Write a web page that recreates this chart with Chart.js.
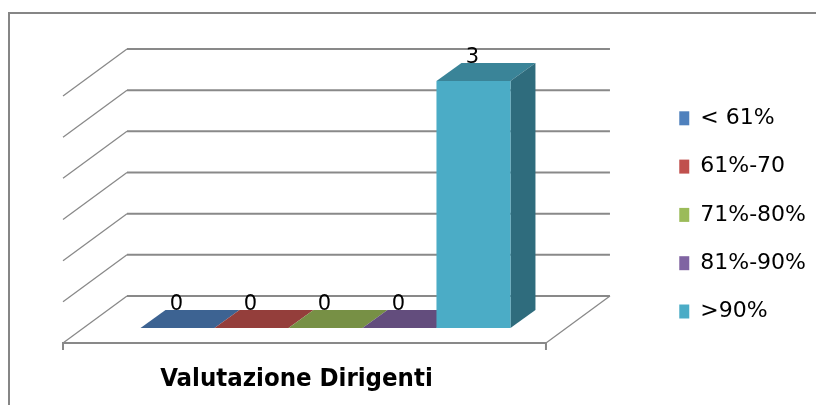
<!DOCTYPE html>
<html>
<head>
<meta charset="utf-8">
<script src="https://cdn.jsdelivr.net/npm/chart.js@4.4.0/dist/chart.umd.min.js"></script>
<style>
  html, body { margin: 0; padding: 0; background: #fff; }
  canvas { display: block; }
</style>
</head>
<body>
<canvas id="myChart" width="816" height="405"></canvas>
<script>
const categories = ['Valutazione Dirigenti'];
const seriesNames = ['< 61%', '61%-70', '71%-80%', '81%-90%', '>90%'];
const seriesValues = [0, 0, 0, 0, 3];
const seriesColors = ['#4F81BD', '#C0504D', '#9BBB59', '#8064A2', '#4BACC6'];

// fake 3d: offsets measured from the plane of the bar fronts
const BACK = { x: 43, y: -32 };
const FRONT = { x: -21, y: 15 };
const BAR_DEPTH = { x: 25, y: -18 };

function shade(hex, f) {
  const n = parseInt(hex.slice(1), 16);
  const r = Math.round(((n >> 16) & 255) * f);
  const g = Math.round(((n >> 8) & 255) * f);
  const b = Math.round((n & 255) * f);
  return 'rgb(' + r + ',' + g + ',' + b + ')';
}

function line(ctx, x1, y1, x2, y2) {
  ctx.beginPath();
  ctx.moveTo(x1, y1);
  ctx.lineTo(x2, y2);
  ctx.stroke();
}

function poly(ctx, pts, color) {
  ctx.beginPath();
  ctx.moveTo(pts[0][0], pts[0][1]);
  for (let i = 1; i < pts.length; i++) ctx.lineTo(pts[i][0], pts[i][1]);
  ctx.closePath();
  ctx.fillStyle = color;
  ctx.fill();
}

const frame = {
  id: 'frame',
  beforeDraw(chart) {
    const ctx = chart.ctx;
    ctx.save();
    ctx.strokeStyle = '#868686';
    ctx.lineWidth = 2;
    ctx.beginPath();
    ctx.moveTo(9, chart.height + 5);
    ctx.lineTo(9, 13);
    ctx.lineTo(chart.width + 5, 13);
    ctx.stroke();
    ctx.restore();
  },
};

const box3d = {
  id: 'box3d',
  beforeDatasetsDraw(chart) {
    const ctx = chart.ctx;
    const area = chart.chartArea;
    const yScale = chart.scales.y;
    const y0 = yScale.getPixelForValue(0);
    ctx.save();
    ctx.strokeStyle = '#898989';
    // back wall and side wall lines
    yScale.ticks.forEach(function (t) {
      const py = yScale.getPixelForValue(t.value);
      ctx.lineWidth = 2;
      line(ctx, area.left + BACK.x, py + BACK.y, area.right + BACK.x, py + BACK.y);
      ctx.lineWidth = 1.3;
      line(ctx, area.left + BACK.x, py + BACK.y, area.left + FRONT.x, py + FRONT.y);
    });
    // floor
    const fl = area.left + FRONT.x;
    const fr = area.right + FRONT.x;
    const fy = y0 + FRONT.y;
    ctx.lineWidth = 2;
    line(ctx, fl, fy, fr, fy);
    line(ctx, fl, fy - 1, fl, fy + 7);
    line(ctx, fr, fy - 1, fr, fy + 7);
    ctx.lineWidth = 1.3;
    line(ctx, fr, fy, area.right + BACK.x, y0 + BACK.y);

    // top and side faces of the bars, the front faces come from chart.js
    chart.data.datasets.forEach(function (ds, i) {
      const meta = chart.getDatasetMeta(i);
      meta.data.forEach(function (bar) {
        const x0 = bar.x - bar.width / 2;
        const x1 = bar.x + bar.width / 2;
        const top = Math.min(bar.y, bar.base);
        const bottom = Math.max(bar.y, bar.base);
        poly(ctx, [
          [x0, top], [x1, top],
          [x1 + BAR_DEPTH.x, top + BAR_DEPTH.y], [x0 + BAR_DEPTH.x, top + BAR_DEPTH.y],
        ], shade(seriesColors[i], 0.77));
        if (bottom - top > 0.5) {
          poly(ctx, [
            [x1, top], [x1 + BAR_DEPTH.x, top + BAR_DEPTH.y],
            [x1 + BAR_DEPTH.x, bottom + BAR_DEPTH.y], [x1, bottom],
          ], shade(seriesColors[i], 0.63));
        }
      });
    });
    ctx.restore();
  },
  afterDatasetsDraw(chart) {
    const ctx = chart.ctx;
    ctx.save();
    ctx.fillStyle = '#000';
    ctx.font = "21px 'DejaVu Sans'";
    ctx.textAlign = 'center';
    ctx.textBaseline = 'alphabetic';
    chart.data.datasets.forEach(function (ds, i) {
      chart.getDatasetMeta(i).data.forEach(function (bar, j) {
        const top = Math.min(bar.y, bar.base);
        ctx.fillText(String(ds.data[j]), bar.x - 1, top - 18);
      });
    });
    ctx.restore();
  },
};

const ctx = document.getElementById('myChart').getContext('2d');
const myChart = new Chart(ctx, {
  type: 'bar',
  data: {
    labels: categories,
    datasets: seriesNames.map(function (name, i) {
      return {
        label: name,
        data: [seriesValues[i]],
        backgroundColor: seriesColors[i],
        borderWidth: 0,
      };
    }),
  },
  options: {
    responsive: false,
    animation: false,
    layout: { padding: { left: 84, top: 81, right: 0, bottom: 9 } },
    datasets: { bar: { categoryPercentage: 0.766, barPercentage: 1 } },
    scales: {
      x: {
        grid: { display: false, drawTicks: false },
        border: { display: false },
        ticks: {
          padding: 36,
          labelOffset: -29,
          color: '#000',
          font: { family: "'DejaVu Sans Condensed', 'DejaVu Sans'", size: 25.5, weight: 'bold' },
        },
        afterFit: function (scale) {
          scale.height = 68;
        },
      },
      y: {
        position: 'right',
        min: 0,
        max: 3,
        ticks: { stepSize: 0.5, display: false },
        grid: { display: false, drawTicks: false },
        border: { display: false },
        afterFit: function (scale) {
          scale.width = 86;
        },
      },
    },
    plugins: {
      legend: {
        position: 'right',
        align: 'start',
        labels: {
          boxWidth: 10,
          boxHeight: 14,
          padding: 26.3,
          color: '#000',
          font: { family: "'DejaVu Sans'", size: 22 },
        },
      },
      tooltip: { enabled: false },
    },
  },
  plugins: [frame, box3d],
});
</script>
</body>
</html>
